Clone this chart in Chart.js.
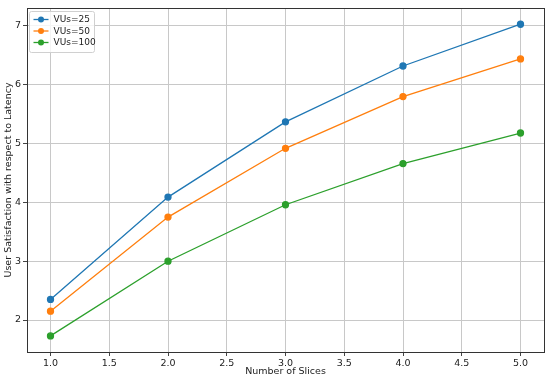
<!DOCTYPE html>
<html>
<head>
<meta charset="utf-8">
<script src="https://cdn.jsdelivr.net/npm/chart.js@4"></script>
<style>
  html, body { margin: 0; padding: 0; background: #fff; }
  #wrap { width: 550px; height: 379px; }
</style>
</head>
<body>
<div id="wrap"><canvas id="latencyChart" width="550" height="379"></canvas></div>
<script>
// Data
const slices = [1, 2, 3, 4, 5];
const vus25 = [2.35, 4.09, 5.37, 6.32, 7.03];
const vus50 = [2.15, 3.75, 4.92, 5.80, 6.44];
const vus100 = [1.73, 3.00, 3.96, 4.66, 5.18];
const seriesLabels = ["VUs=25", "VUs=50", "VUs=100"];
const xTicks = [1.0, 1.5, 2.0, 2.5, 3.0, 3.5, 4.0, 4.5, 5.0];
const yTicks = [2, 3, 4, 5, 6, 7];

const colors = ["#1f77b4", "#ff7f0e", "#2ca02c"];
const font = { family: "DejaVu Sans", size: 9.5 };

function makeSet(label, values, color) {
  return {
    label: label,
    data: slices.map((s, i) => ({ x: s, y: values[i] })),
    borderColor: color,
    backgroundColor: color,
    borderWidth: 1.3,
    pointRadius: 3,
    pointHoverRadius: 3,
    tension: 0
  };
}

// frame around the plot + legend in upper-left corner
const framePlugin = {
  id: "frame",
  afterDraw(chart) {
    const { ctx, chartArea: a } = chart;
    ctx.save();
    ctx.strokeStyle = "#333";
    ctx.lineWidth = 1;
    ctx.strokeRect(a.left + 0.5, a.top + 0.5, a.right - a.left, a.bottom - a.top);

    // legend
    const bx = a.left + 2.5, by = a.top + 3.5, bw = 65, bh = 41;
    ctx.fillStyle = "rgba(255,255,255,0.8)";
    ctx.strokeStyle = "#d0d0d0";
    ctx.beginPath();
    ctx.roundRect(bx, by, bw, bh, 2);
    ctx.fill();
    ctx.stroke();
    ctx.font = "9px 'DejaVu Sans'";
    ctx.textBaseline = "middle";
    chart.data.datasets.forEach((ds, i) => {
      const y = by + 8 + i * 11.5;
      ctx.strokeStyle = ds.borderColor;
      ctx.lineWidth = 1.3;
      ctx.beginPath();
      ctx.moveTo(bx + 4, y);
      ctx.lineTo(bx + 19, y);
      ctx.stroke();
      ctx.fillStyle = ds.borderColor;
      ctx.beginPath();
      ctx.arc(bx + 11.5, y, 3, 0, Math.PI * 2);
      ctx.fill();
      ctx.fillStyle = "#222";
      ctx.fillText(ds.label, bx + 24, y + 0.5);
    });
    ctx.restore();
  }
};

new Chart(document.getElementById("latencyChart"), {
  type: "line",
  data: {
    datasets: [
      makeSet(seriesLabels[0], vus25, colors[0]),
      makeSet(seriesLabels[1], vus50, colors[1]),
      makeSet(seriesLabels[2], vus100, colors[2])
    ]
  },
  options: {
    responsive: false,
    animation: false,
    layout: { padding: { left: 0, right: 6, top: 8, bottom: 0 } },
    plugins: {
      legend: { display: false },
      tooltip: { enabled: false }
    },
    scales: {
      x: {
        type: "linear",
        min: 0.8,
        max: 5.2,
        afterBuildTicks: scale => { scale.ticks = xTicks.map(v => ({ value: v })); },
        afterFit: scale => { scale.height = 27; },
        ticks: {
          font: font,
          color: "#222",
          padding: 2,
          maxRotation: 0,
          callback: v => v.toFixed(1)
        },
        grid: { color: "#c8c8c8", lineWidth: 1, tickLength: 4, tickColor: "#444" },
        border: { display: false },
        title: {
          display: true,
          text: "Number of Slices",
          font: font,
          color: "#222",
          padding: { top: 0, bottom: 2 }
        }
      },
      y: {
        type: "linear",
        min: 1.456,
        max: 7.306,
        afterBuildTicks: scale => { scale.ticks = yTicks.map(v => ({ value: v })); },
        afterFit: scale => { scale.width = 27; },
        ticks: {
          font: font,
          color: "#222",
          padding: 2,
          callback: v => String(v)
        },
        grid: { color: "#c8c8c8", lineWidth: 1, tickLength: 4, tickColor: "#444" },
        border: { display: false },
        title: {
          display: true,
          text: "User Satisfaction with respect to Latency",
          font: font,
          color: "#222",
          padding: { top: 3, bottom: 0 }
        }
      }
    }
  },
  plugins: [framePlugin]
});
</script>
</body>
</html>
